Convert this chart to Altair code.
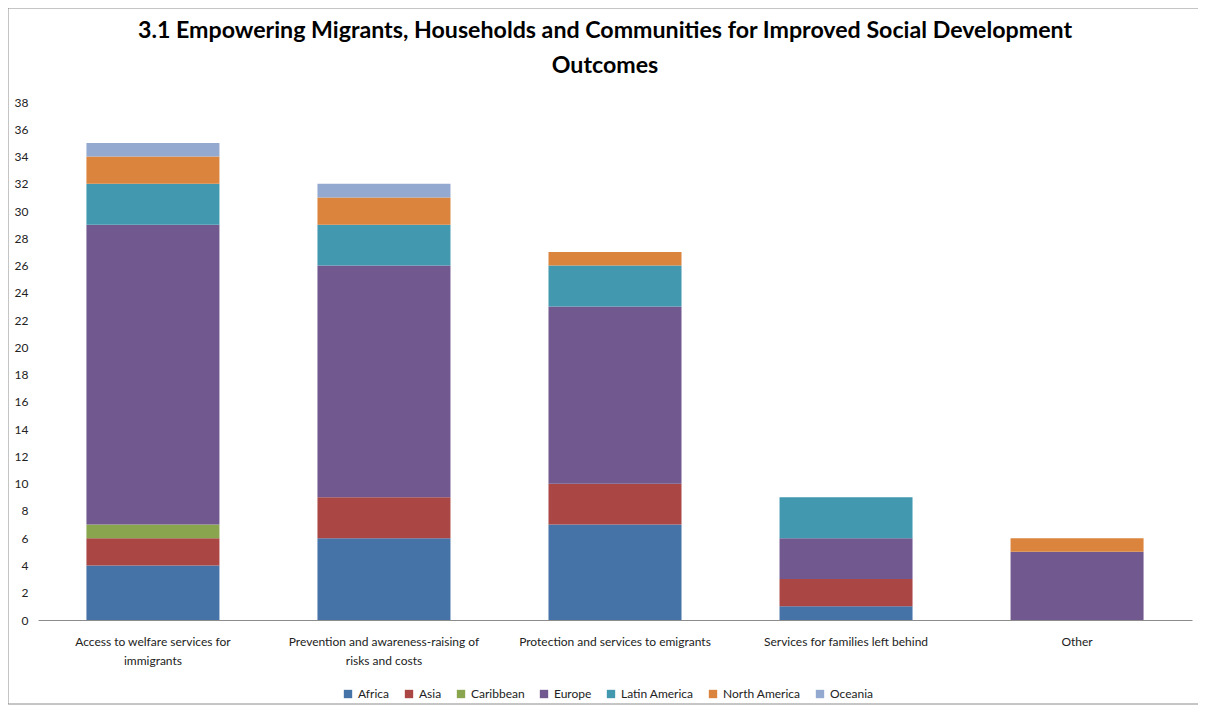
import altair as alt
import pandas as pd

categories = [
    "Access to welfare services for immigrants",
    "Prevention and awareness-raising of risks and costs",
    "Protection and services to emigrants",
    "Services for families left behind",
    "Other",
]
category_lines = [
    ["Access to welfare services for", "immigrants"],
    ["Prevention and awareness-raising of", "risks and costs"],
    ["Protection and services to emigrants"],
    ["Services for families left behind"],
    ["Other"],
]
regions = ["Africa", "Asia", "Caribbean", "Europe", "Latin America", "North America", "Oceania"]
colors = ["#4572A7", "#AA4643", "#89A54E", "#71588F", "#4198AF", "#DB843D", "#93A9CF"]

africa = [4, 6, 7, 1, 0]
asia = [2, 3, 3, 2, 0]
caribbean = [1, 0, 0, 0, 0]
europe = [22, 17, 13, 3, 5]
latin_america = [3, 3, 3, 3, 0]
north_america = [2, 2, 1, 0, 1]
oceania = [1, 1, 0, 0, 0]
series = [africa, asia, caribbean, europe, latin_america, north_america, oceania]

y_ticks = list(range(0, 39, 2))
title_lines = [
    "3.1 Empowering Migrants, Households and Communities for Improved Social Development",
    "Outcomes",
]

rows = []
for ri, (reg, vals) in enumerate(zip(regions, series)):
    for ci, (cat, v) in enumerate(zip(categories, vals)):
        if v > 0:
            rows.append({"category": cat, "region": reg, "value": v, "ord": ri})
df = pd.DataFrame(rows)

label_map = "{" + ",".join(
    f"'{c}': {lines}" for c, lines in zip(categories, category_lines)
) + "}"

W, H = 1154, 518
FONT = "Lato"

bars = alt.Chart(df).mark_bar(size=133).encode(
    x=alt.X("category:N", sort=categories, title=None,
            scale=alt.Scale(paddingInner=0.425, paddingOuter=0.21),
            axis=alt.Axis(labelAngle=0, labelExpr=f"{label_map}[datum.label]",
                          labelLimit=400, ticks=False, domainColor="#8c8c8c",
                          labelFont=FONT, labelFontSize=12, labelColor="#222",
                          labelPadding=16, labelLineHeight=19)),
    y=alt.Y("value:Q", stack="zero", title=None,
            scale=alt.Scale(domain=[0, 38], nice=False),
            axis=alt.Axis(values=y_ticks, ticks=False, domain=False,
                          gridColor="#8c8c8c", gridWidth=1,
                          labelFont=FONT, labelFontSize=12, labelColor="#222",
                          labelPadding=10)),
    color=alt.Color("region:N", sort=regions,
                    scale=alt.Scale(domain=regions, range=colors),
                    legend=alt.Legend(title=None, orient="none", direction="horizontal",
                                      legendX=304, legendY=586,
                                      symbolType="square", symbolSize=70,
                                      symbolStrokeWidth=0, columnPadding=13,
                                      labelFont=FONT, labelFontSize=12, labelColor="#222")),
    order=alt.Order("ord:Q", sort="ascending"),
)

title_df = pd.DataFrame({"line": title_lines, "i": [0, 1]})
title = alt.Chart(title_df).mark_text(
    font=FONT, fontSize=23.2, fontWeight="bold", color="#000", baseline="middle", align="center"
).encode(
    text="line:N",
    x=alt.value(W / 2 - 10),
    y=alt.Y("i:Q", axis=None, scale=alt.Scale(domain=[0, 1], range=[-71, -36])),
)

border = alt.Chart(pd.DataFrame({"k": [0]})).mark_rect(
    fill=None, stroke="#8c8c8c", strokeWidth=1
).encode(
    x=alt.value(-30), x2=alt.value(W + 8), y=alt.value(-94), y2=alt.value(H + 84)
)

chart = alt.layer(border, title, bars).resolve_scale(y="independent").properties(
    width=W, height=H,
    autosize=alt.AutoSizeParams(type="none"),
    padding={"left": 30, "top": 94, "right": 6, "bottom": 86},
).configure_view(stroke=None)

chart.save("out.html", embed_options={"renderer": "svg", "actions": False})
